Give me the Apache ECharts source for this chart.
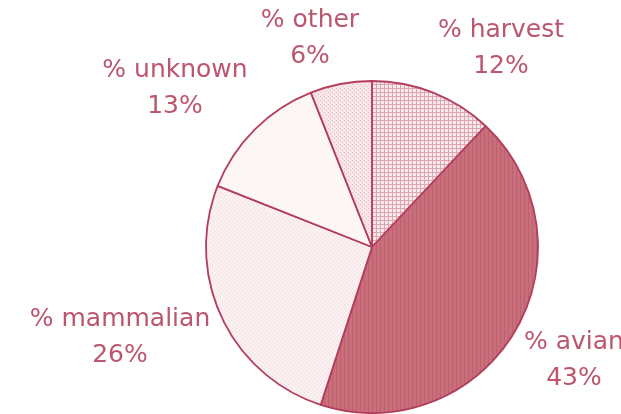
<!DOCTYPE html>
<html>
<head>
<meta charset="utf-8">
<script src="https://cdn.jsdelivr.net/npm/echarts@6/dist/echarts.min.js"></script>
<style>
html,body{margin:0;padding:0;background:#fff;}
#chart{width:621px;height:414px;}
</style>
</head>
<body>
<div id="chart"></div>
<script>
// Data
const categories = ['harvest', 'avian', 'mammalian', 'unknown', 'other'];
const percents = [12, 43, 26, 13, 6];

// Label placement (layout, not data)
const labelPosX = [501, 574, 120, 175, 310];
const labelPosY = [48, 360, 337, 88, 38];

function makePattern(kind) {
  const c = document.createElement('canvas');
  const s = 4;
  c.width = s; c.height = s;
  const g = c.getContext('2d');
  if (kind === 'grid') {
    g.fillStyle = '#f8e8ec'; g.fillRect(0, 0, s, s);
    g.fillStyle = '#dba6b2';
    g.fillRect(0, 0, s, 1);
    g.fillRect(0, 0, 1, s);
  } else if (kind === 'vstripe') {
    g.fillStyle = '#c96f7b'; g.fillRect(0, 0, s, s);
    g.fillStyle = '#c0606f';
    g.fillRect(0, 0, 1, s);
  } else if (kind === 'dots') {
    g.fillStyle = '#fbf0f2'; g.fillRect(0, 0, s, s);
    g.fillStyle = '#f0d6dc';
    g.fillRect(0, 0, 1, 1); g.fillRect(2, 2, 1, 1);
  } else if (kind === 'dots2') {
    g.fillStyle = '#f8e6ea'; g.fillRect(0, 0, s, s);
    g.fillStyle = '#e6bdc7';
    g.fillRect(0, 0, 1, 1); g.fillRect(2, 2, 1, 1);
  } else {
    g.fillStyle = '#fdf6f7'; g.fillRect(0, 0, s, s);
  }
  return { image: c, repeat: 'repeat' };
}
const fills = [makePattern('grid'), makePattern('vstripe'), makePattern('dots'), makePattern('plain'), makePattern('dots2')];

const chart = echarts.init(document.getElementById('chart'), null, { renderer: 'canvas' });
chart.setOption({
  backgroundColor: '#ffffff',
  animation: false,
  series: [{
    type: 'pie',
    center: [372, 247],
    radius: 166,
    startAngle: 90,
    clockwise: true,
    data: categories.map((n, i) => ({
      name: n, value: percents[i],
      itemStyle: { color: fills[i] }
    })),
    itemStyle: { borderColor: '#b33d5a', borderWidth: 1.8 },
    label: {
      show: true,
      position: 'outside',
      overflow: 'none',
      formatter: p => '% ' + p.name + '\n' + p.value + '%',
      color: '#bc566e',
      fontFamily: 'DejaVu Sans',
      fontSize: 25,
      lineHeight: 36,
      align: 'center'
    },
    labelLine: { show: false },
    labelLayout: function (params) {
      const i = params.dataIndex;
      return { x: labelPosX[i], y: labelPosY[i], align: 'center', verticalAlign: 'middle' };
    },
    emphasis: { disabled: true }
  }]
});
</script>
</body>
</html>
